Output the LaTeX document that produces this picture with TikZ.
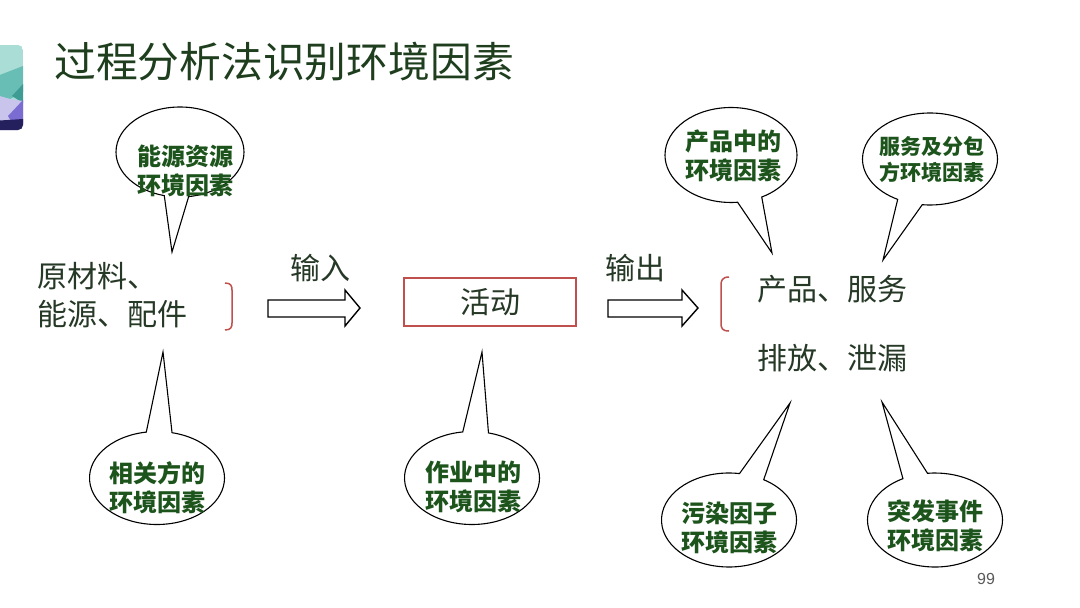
\documentclass[tikz,border=0pt]{standalone}
\usepackage{fontspec}
\setmainfont{Liberation Sans}
\newfontfamily\cjk{Noto Sans CJK SC}
\usetikzlibrary{shapes.callouts}
\definecolor{titlegreen}{RGB}{30,62,30}
\definecolor{textgreen}{RGB}{38,56,38}
\definecolor{bubgreen}{RGB}{28,84,28}
\definecolor{bracketred}{RGB}{192,80,77}
\definecolor{pagegray}{RGB}{90,90,90}
\begin{document}
\begin{tikzpicture}[x=1pt,y=-1pt,
  bubble/.style={ellipse callout, draw=black, fill=white, line width=1.1pt,
     inner sep=0pt, callout pointer arc=22},
  btext/.style={font=\cjk\bfseries\fontsize{24}{29}\selectfont, text=bubgreen, align=center, inner sep=0pt},
  maintext/.style={font=\cjk\fontsize{30}{38}\selectfont, text=textgreen, inner sep=0pt},
  blockarrow/.style={draw=black, fill=white, line width=1.4pt, line join=miter},
  bracket/.style={draw=bracketred, line width=1.5pt}
]
\useasboundingbox[fill=white] (0,0) rectangle (1080,608);

% logo
\begin{scope}
\clip[rounded corners=5pt] (-8,45) rectangle (23,130);
\fill[fill={rgb,255:red,170;green,221;blue,214}] (-8,45) rectangle (23,130);
\fill[fill={rgb,255:red,104;green,190;blue,180}] (-8,78) -- (23,66) -- (23,92) -- (10,99) -- (-8,94) -- cycle;
\fill[fill={rgb,255:red,62;green,156;blue,148}] (12,96) -- (23,84) -- (23,103) -- cycle;
\fill[fill={rgb,255:red,200;green,196;blue,236}] (-8,94) -- (10,99) -- (23,101) -- (23,130) -- (-8,130) -- cycle;
\fill[fill={rgb,255:red,122;green,108;blue,208}] (8,116) -- (23,100) -- (23,123) -- (14,126) -- cycle;
\fill[fill={rgb,255:red,36;green,32;blue,94}] (-8,121) -- (23,119) -- (23,130) -- (-8,130) -- cycle;
\end{scope}

% title
\node[anchor=west, inner sep=0pt, font=\cjk\fontsize{41.8}{42}\selectfont, text=titlegreen] (title) at (54,62) {过程分析法识别环境因素};

% main texts
\node[maintext, anchor=west, align=left] (src) at (37,295) {原材料、\\能源、配件};
\node[maintext] (inlbl) at (320,268) {输入};
\node[maintext] (outlbl) at (635,268) {输出};
\node[draw=bracketred, line width=1.5pt, minimum width=172, minimum height=48, font=\cjk\fontsize{30}{36}\selectfont, text=textgreen] (act) at (490,302) {活动};
\node[maintext, anchor=west] (prod) at (757,289) {产品、服务};
\node[maintext, anchor=west] (emis) at (757,358) {排放、泄漏};

% brackets
\draw[bracket] (225,283) .. controls (231,283) and (232,286) .. (232,290) -- (232,323) .. controls (232,327) and (231,330) .. (225,330);
\draw[bracket] (729,277) .. controls (722,277) and (721,281) .. (721,285) -- (721,323) .. controls (721,328) and (722,331) .. (729,331);

% block arrows
\draw[blockarrow] (268,300) -- (345,300) -- (345,290) -- (360,308) -- (345,326) -- (345,317) -- (268,317) -- cycle;
\draw[blockarrow] (608,300) -- (682,300) -- (682,290) -- (698,308) -- (682,326) -- (682,317) -- (608,317) -- cycle;

% callout tips
\coordinate (p1) at (172,252);
\coordinate (p2) at (163,352);
\coordinate (p3) at (482,352);
\coordinate (p4) at (772,253);
\coordinate (p5) at (883,260);
\coordinate (p6) at (790,403);
\coordinate (p7) at (882,402);

% callouts
\node[bubble, minimum width=128, minimum height=90, callout absolute pointer={(p1)}] (c1) at (180,152) {};
\node[bubble, minimum width=135, minimum height=93, callout absolute pointer={(p2)}] (c2) at (157,478) {};
\node[bubble, minimum width=135, minimum height=93, callout absolute pointer={(p3)}] (c3) at (472,478) {};
\node[bubble, minimum width=132, minimum height=95, callout absolute pointer={(p4)}] (c4) at (731,155) {};
\node[bubble, minimum width=135, minimum height=92, callout absolute pointer={(p5)}] (c5) at (930,159) {};
\node[bubble, minimum width=135, minimum height=94, callout absolute pointer={(p6)}] (c6) at (729,520) {};
\node[bubble, minimum width=135, minimum height=94, callout absolute pointer={(p7)}] (c7) at (935,520) {};

\node[btext] (t1) at (185,171) {能源资源\\环境因素};
\node[btext] (t2) at (157,488) {相关方的\\环境因素};
\node[btext] (t3) at (473,487) {作业中的\\环境因素};
\node[btext] (t4) at (733,156) {产品中的\\环境因素};
\node[btext, font=\cjk\bfseries\fontsize{21}{26}\selectfont] (t5) at (932,160) {服务及分包\\方环境因素};
\node[btext] (t6) at (729,528) {污染因子\\环境因素};
\node[btext] (t7) at (935,526) {突发事件\\环境因素};

% page number
\node[font=\fontsize{16}{16}\selectfont, text=pagegray, inner sep=0pt] (pg) at (986,579) {99};
\end{tikzpicture}
\end{document}
